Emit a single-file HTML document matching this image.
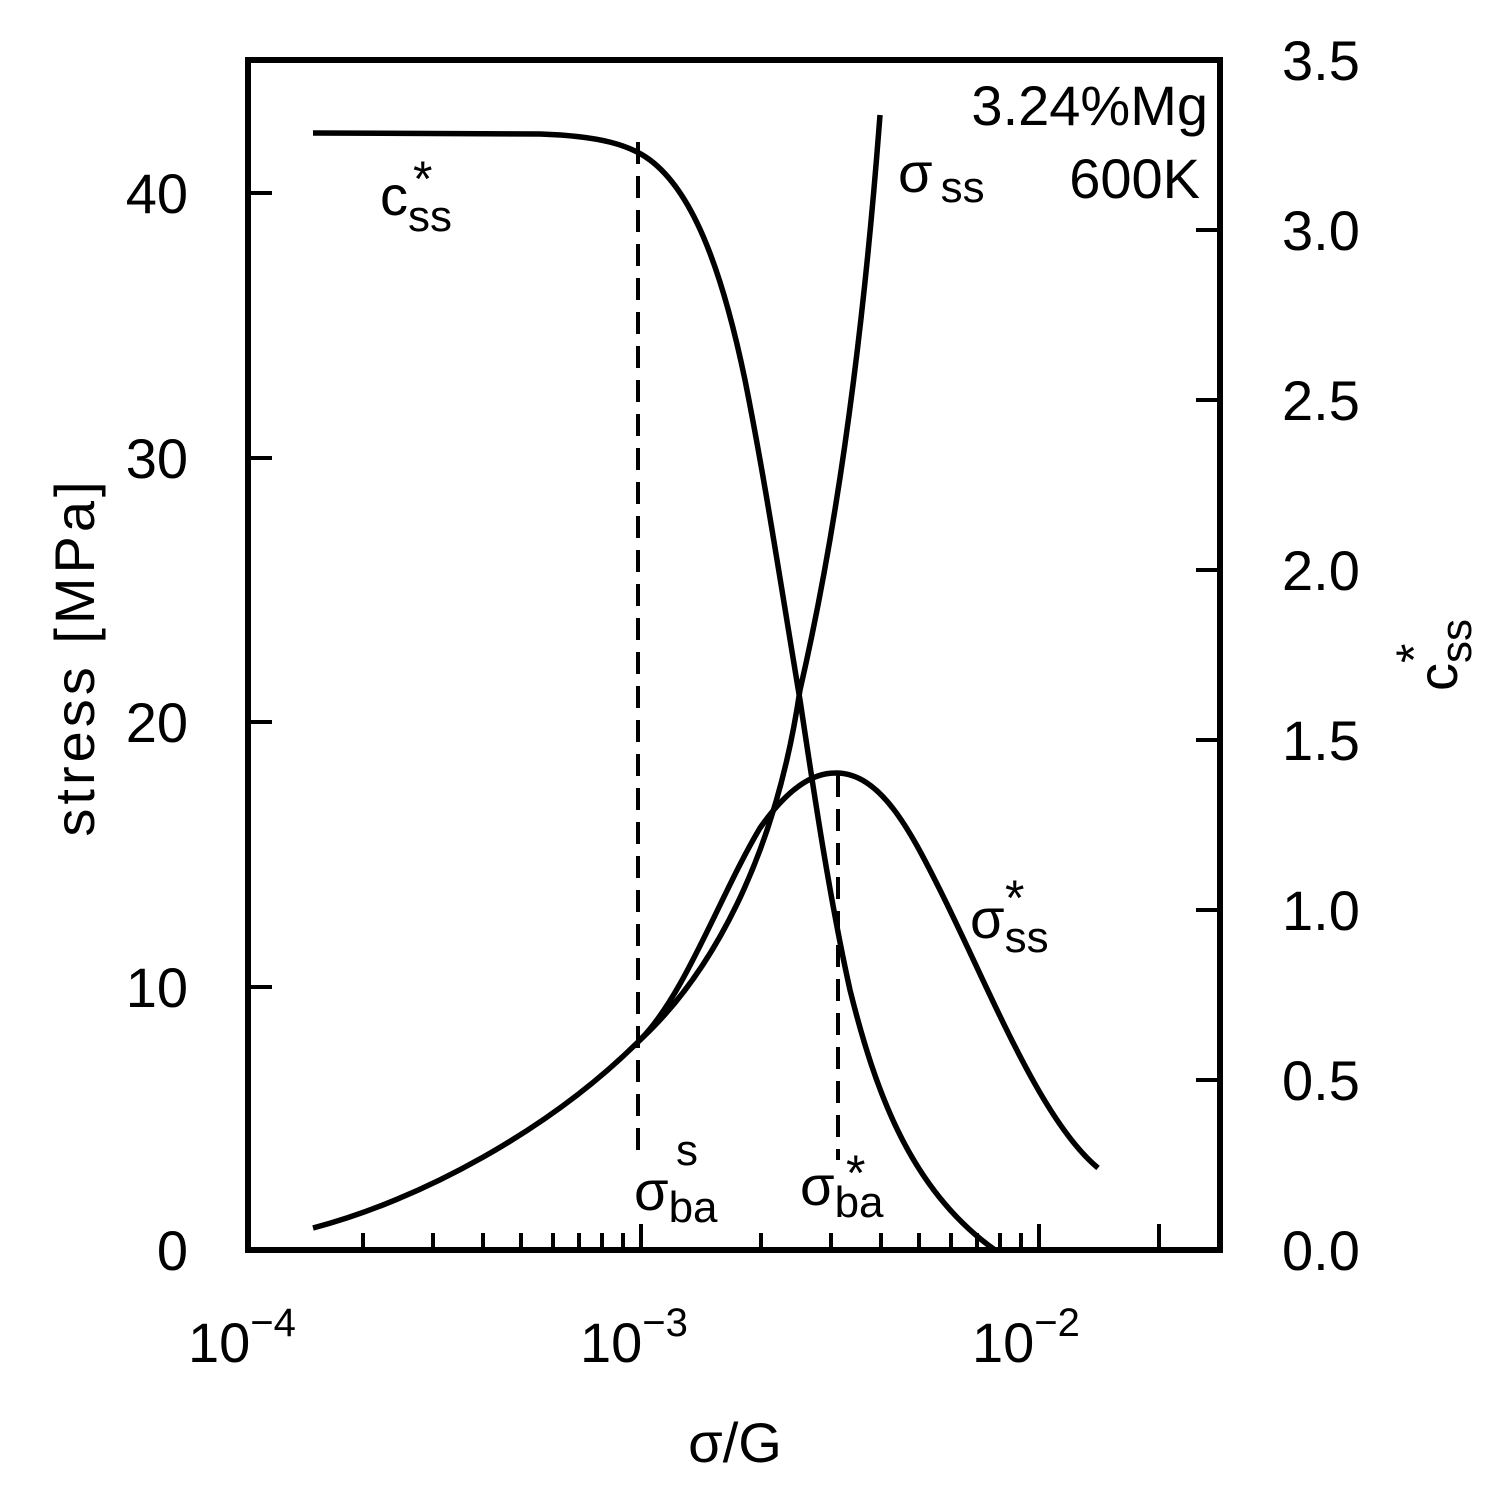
<!DOCTYPE html>
<html><head><style>body{margin:0;background:#fff}svg text{font-family:"Liberation Sans",sans-serif;fill:#000}</style></head>
<body>
<svg width="1504" height="1492" viewBox="0 0 1504 1492" xmlns="http://www.w3.org/2000/svg">
<rect x="248" y="60" width="972" height="1190" fill="none" stroke="#000" stroke-width="6"/>
<g stroke="#000" stroke-width="4">
<line x1="641" y1="1250" x2="641" y2="1224"/><line x1="1039" y1="1250" x2="1039" y2="1224"/>
<line x1="363" y1="1250" x2="363" y2="1233"/><line x1="433" y1="1250" x2="433" y2="1233"/><line x1="483" y1="1250" x2="483" y2="1233"/><line x1="521" y1="1250" x2="521" y2="1233"/><line x1="553" y1="1250" x2="553" y2="1233"/><line x1="579" y1="1250" x2="579" y2="1233"/><line x1="602" y1="1250" x2="602" y2="1233"/><line x1="623" y1="1250" x2="623" y2="1233"/>
<line x1="761" y1="1250" x2="761" y2="1233"/><line x1="831" y1="1250" x2="831" y2="1233"/><line x1="881" y1="1250" x2="881" y2="1233"/><line x1="919" y1="1250" x2="919" y2="1233"/><line x1="951" y1="1250" x2="951" y2="1233"/><line x1="977" y1="1250" x2="977" y2="1233"/><line x1="1000" y1="1250" x2="1000" y2="1233"/><line x1="1021" y1="1250" x2="1021" y2="1233"/>
<line x1="1159" y1="1250" x2="1159" y2="1224"/>
<line x1="248" y1="987" x2="272" y2="987"/><line x1="248" y1="722" x2="272" y2="722"/><line x1="248" y1="458" x2="272" y2="458"/><line x1="248" y1="193" x2="272" y2="193"/>
<line x1="1220" y1="1080" x2="1196" y2="1080"/><line x1="1220" y1="910" x2="1196" y2="910"/><line x1="1220" y1="740" x2="1196" y2="740"/><line x1="1220" y1="570" x2="1196" y2="570"/><line x1="1220" y1="400" x2="1196" y2="400"/><line x1="1220" y1="230" x2="1196" y2="230"/>
</g>
<g fill="none" stroke="#000" stroke-width="5.5">
<path d="M313,133 L540,134 C600,136 630,145 650,160 C690,190 720,260 745,380 C765,480 780,580 800,700 C815,800 830,900 850,990 C875,1090 910,1190 995,1250"/>
<path d="M313,1228 C420,1200 550,1130 640,1040 C710,975 775,860 800,690 C830,560 860,380 880,115"/>
<path d="M640,1040 C685,995 720,895 760,828 C790,785 815,773 835,773 C880,772 910,830 940,890 C990,990 1040,1120 1098,1168"/>
<path d="M638,142 V1160 M838,775 V1160" stroke-dasharray="22,12" stroke-width="4"/>
</g>
<g font-size="56">
<text x="188" y="1270" text-anchor="end">0</text>
<text x="188" y="1007" text-anchor="end">10</text>
<text x="188" y="742" text-anchor="end">20</text>
<text x="188" y="478" text-anchor="end">30</text>
<text x="188" y="213" text-anchor="end">40</text>
<g text-anchor="start">
<text x="1282" y="1270">0.0</text><text x="1282" y="1100">0.5</text><text x="1282" y="930">1.0</text><text x="1282" y="760">1.5</text><text x="1282" y="590">2.0</text><text x="1282" y="420">2.5</text><text x="1282" y="250">3.0</text><text x="1282" y="80">3.5</text>
</g>
<text x="188" y="1362">10<tspan dy="-26" font-size="40">−4</tspan></text>
<text x="580" y="1362">10<tspan dy="-26" font-size="40">−3</tspan></text>
<text x="972" y="1362">10<tspan dy="-26" font-size="40">−2</tspan></text>
<text x="735" y="1462" text-anchor="middle">σ/G</text>
<text transform="translate(94,657) rotate(-90)" text-anchor="middle" letter-spacing="4">stress [MPa]</text>
<text transform="translate(1457,655) rotate(-90)" text-anchor="middle">c<tspan dy="14" font-size="44">ss</tspan><tspan dx="-44" dy="-40" font-size="50">*</tspan></text>
<text x="1208" y="125" text-anchor="end">3.24%Mg</text>
<text x="1200" y="198" text-anchor="end">600K</text>
<text x="380" y="215">c<tspan dy="16" font-size="44">ss</tspan></text>
<text x="413" y="196" font-size="50">*</text>
<text x="898" y="192">σ<tspan dx="8" dy="10" font-size="44">ss</tspan></text>
<text x="970" y="938">σ<tspan dy="14" font-size="44">ss</tspan></text>
<text x="1005" y="915" font-size="50">*</text>
<text x="634" y="1210">σ<tspan dy="12" font-size="44">ba</tspan></text>
<text x="676" y="1165" font-size="44">s</text>
<text x="800" y="1205">σ<tspan dy="12" font-size="44">ba</tspan></text>
<text x="846" y="1190" font-size="50">*</text>
</g>
</svg>
</body></html>
